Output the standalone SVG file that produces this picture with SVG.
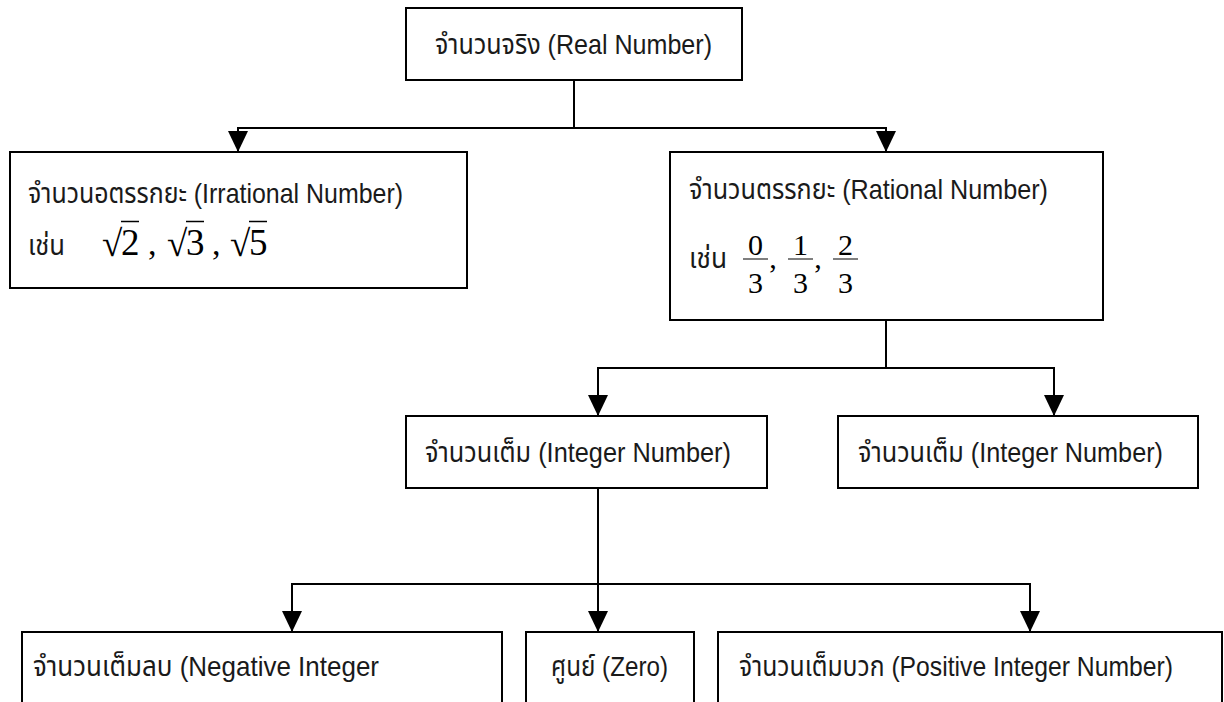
<svg xmlns="http://www.w3.org/2000/svg" width="1224" height="702" viewBox="0 0 1224 702">
<style>
.box{fill:#fff;stroke:#000;stroke-width:2}
.lbl{font-family:'Liberation Sans','Noto Sans Thai','Noto Sans',sans-serif;font-size:28px;fill:#1a1a1a}
.m{font-family:'Liberation Serif',serif;fill:#000}
.c{fill:none;stroke:#000;stroke-width:2}
</style>
<defs>
<marker id="ah" markerUnits="userSpaceOnUse" viewBox="0 0 21 20" refX="21" refY="10" markerWidth="21" markerHeight="20" orient="auto">
<path d="M0,0 L21,10 L0,20 z" fill="#000"/>
</marker>
</defs>
<rect width="1224" height="702" fill="#fff"/>
<g id="connectors">
<path class="c" d="M574,80 V128 H238 V152" marker-end="url(#ah)"/>
<path class="c" d="M574,128 H886 V152" marker-end="url(#ah)"/>
<path class="c" d="M886,320 V368 H598 V416" marker-end="url(#ah)"/>
<path class="c" d="M886,368 H1054 V416" marker-end="url(#ah)"/>
<path class="c" d="M598,488 V584 H292 V632" marker-end="url(#ah)"/>
<path class="c" d="M598,584 V632" marker-end="url(#ah)"/>
<path class="c" d="M598,584 H1030 V632" marker-end="url(#ah)"/>
</g>
<g id="real">
<rect class="box" x="406" y="8" width="336" height="72"/>
<text class="lbl" x="435" y="54" textLength="277" lengthAdjust="spacingAndGlyphs">จำนวนจริง (Real Number)</text>
</g>
<g id="irrational">
<rect class="box" x="10" y="152" width="457" height="136"/>
<text class="lbl" x="28" y="203" textLength="375" lengthAdjust="spacingAndGlyphs">จำนวนอตรรกยะ (Irrational Number)</text>
<text class="lbl" x="28" y="255" textLength="37" lengthAdjust="spacingAndGlyphs">เช่น</text>
<text class="m" font-size="37" x="102" y="256">√</text>
<line x1="121" y1="221.5" x2="139" y2="221.5" stroke="#000" stroke-width="1.5"/>
<text class="m" font-size="37" x="121" y="255">2</text>
<text class="m" font-size="34" x="148" y="255">,</text>
<text class="m" font-size="37" x="167" y="256">√</text>
<line x1="186" y1="221.5" x2="204" y2="221.5" stroke="#000" stroke-width="1.5"/>
<text class="m" font-size="37" x="186" y="255">3</text>
<text class="m" font-size="34" x="212" y="255">,</text>
<text class="m" font-size="37" x="230" y="256">√</text>
<line x1="249" y1="221.5" x2="267" y2="221.5" stroke="#000" stroke-width="1.5"/>
<text class="m" font-size="37" x="249" y="255">5</text>
</g>
<g id="rational">
<rect class="box" x="670" y="152" width="433" height="168"/>
<text class="lbl" x="689" y="199" textLength="359" lengthAdjust="spacingAndGlyphs">จำนวนตรรกยะ (Rational Number)</text>
<text class="lbl" x="689" y="268" textLength="38" lengthAdjust="spacingAndGlyphs">เช่น</text>
<g class="m" font-size="30" text-anchor="middle">
<text x="755.5" y="255">0</text><text x="755.5" y="293">3</text>
<text x="800.5" y="255">1</text><text x="800.5" y="293">3</text>
<text x="845.5" y="255">2</text><text x="845.5" y="293">3</text>
<text x="773" y="268">,</text><text x="818" y="268">,</text>
</g>
<path d="M743,259 H768 M788,259 H813 M833,259 H858" stroke="#000" stroke-width="1.2"/>
</g>
<g id="integer-left">
<rect class="box" x="406" y="416" width="361" height="72"/>
<text class="lbl" x="425" y="462" textLength="306" lengthAdjust="spacingAndGlyphs">จำนวนเต็ม (Integer Number)</text>
</g>
<g id="integer-right">
<rect class="box" x="838" y="416" width="360" height="72"/>
<text class="lbl" x="858" y="462" textLength="305" lengthAdjust="spacingAndGlyphs">จำนวนเต็ม (Integer Number)</text>
</g>
<g id="negative">
<rect class="box" x="22" y="632" width="480" height="90"/>
<text class="lbl" x="33" y="676" textLength="346" lengthAdjust="spacingAndGlyphs">จำนวนเต็มลบ (Negative Integer</text>
</g>
<g id="zero">
<rect class="box" x="526" y="632" width="168" height="90"/>
<text class="lbl" x="551" y="676" textLength="117" lengthAdjust="spacingAndGlyphs">ศูนย์ (Zero)</text>
</g>
<g id="positive">
<rect class="box" x="718" y="632" width="504" height="90"/>
<text class="lbl" x="739" y="676" textLength="434" lengthAdjust="spacingAndGlyphs">จำนวนเต็มบวก (Positive Integer Number)</text>
</g>
</svg>
